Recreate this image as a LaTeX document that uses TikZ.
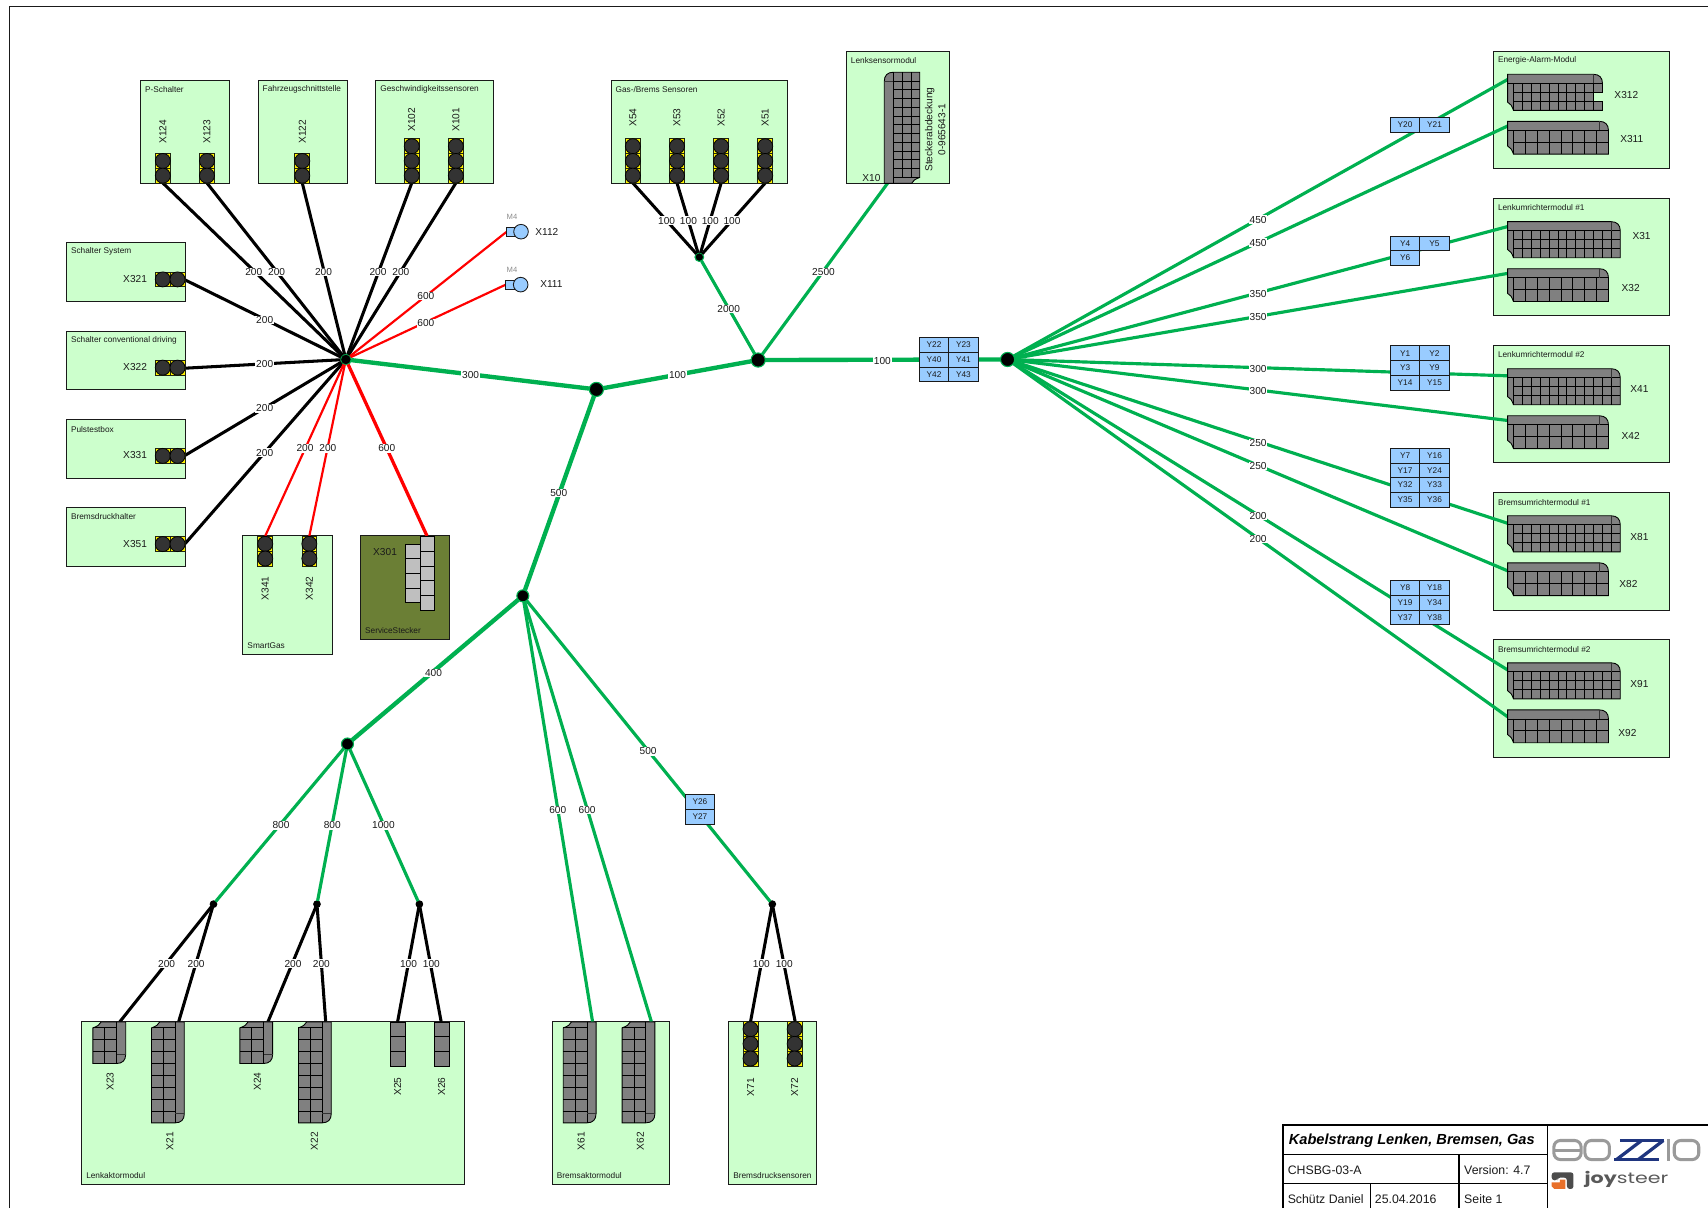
\documentclass[tikz,border=0pt]{standalone}
\usepackage{fontspec}
\usepackage{graphicx}
\setmainfont{Liberation Sans}
\newfontfamily\logofont{Poppins}
\definecolor{modgreen}{HTML}{CCFFCC}
\definecolor{olivebox}{HTML}{6B7F35}
\definecolor{wiregreen}{HTML}{00B050}
\definecolor{ybox}{HTML}{99CCFF}
\definecolor{blockgrey}{HTML}{808080}
\definecolor{inkdark}{HTML}{1A1A1A}
\definecolor{navylogo}{HTML}{1F357F}
\definecolor{greylogo}{HTML}{9A9A9A}
\definecolor{orangelogo}{HTML}{E8702A}
\tikzset{
  module/.style={draw=inkdark,line width=0.9pt,fill=modgreen,inner sep=0pt,outer sep=0pt,anchor=north west},
  modtitle/.style={anchor=west,inner sep=0pt,text=inkdark,font=\fontsize{7.6}{8.5}\selectfont},
  conlabel/.style={inner sep=0pt,text=inkdark,font=\fontsize{9.3}{11}\selectfont},
  lab/.style={fill=white,inner sep=0.7pt,text=inkdark,font=\fontsize{9.3}{10}\selectfont},
  ycellbox/.style={draw=inkdark,line width=0.8pt,fill=ybox,inner sep=0pt,outer sep=0pt,anchor=north west,minimum width=27pt,minimum height=13.5pt,text=inkdark,font=\fontsize{7.6}{8}\selectfont},
  junc/.style={circle,fill=black,draw=wiregreen,line width=1pt,inner sep=0pt,outer sep=0pt},
  blackw/.style={draw=black,line width=2.8pt},
  redw/.style={draw=red,line width=2pt},
  redthick/.style={draw=red,line width=3pt},
  greenw/.style={draw=wiregreen,line width=2.9pt},
  greenthick/.style={draw=wiregreen,line width=4pt},
  blk/.style={fill=blockgrey,draw=black,line width=0.8pt},
  blkline/.style={draw=black,line width=0.8pt},
  frameline/.style={draw=inkdark,line width=1pt},
  titleline/.style={draw=black,line width=1pt},
  titletext/.style={anchor=west,inner sep=0pt,text=inkdark,font=\fontsize{11.3}{13}\selectfont},
}
\newcount\lablcount
% module box with a title
\newcommand\modulebox[8][modgreen]{%
  \pgfmathsetmacro\mw{#5-#3}\pgfmathsetmacro\mh{#6-#4}%
  \node[module,fill=#1,minimum width=\mw pt,minimum height=\mh pt] (#2) at (#3,#4) {};
  \node[modtitle] (#2-title) at ({#3+4},{#8+0.5}) {#7};
}
% wire with a label
\newcommand\wire[6]{%
  \draw[#1] (#2) -- (#3);
  \global\advance\lablcount by 1
  \node[lab] (lab\the\lablcount) at (#5,{#6+0.7}) {#4};
}
% text label of a connector
\newcommand\conl[4]{\node[conlabel,rotate=#4] (l#3) at (#1,#2) {#3};}
\newcommand\conlv[3]{\conl{#1}{#2}{#3}{90}}
% one round cavity
\newcommand\pincell[2]{%
  \fill[yellow] ({#1-6.8},{#2-6.8}) rectangle ({#1+6.8},{#2+6.8});
  \draw[black!70!olivebox,line width=0.7pt] ({#1-6.8},{#2-6.8}) rectangle ({#1+6.8},{#2+6.8});
  \filldraw[fill=black!80,draw=black,line width=0.7pt] ({#1},{#2}) circle (6.9pt);
}
% vertical stack: x centre, top y, number
\newcommand\pinsv[3]{\foreach \pk in {1,...,#3}{\pincell{#1}{#2+6.75+(\pk-1)*13.5}}}
% horizontal stack: left x, y centre, number
\newcommand\pinsh[3]{\foreach \pk in {1,...,#3}{\pincell{#1+6.75+(\pk-1)*13.5}{#2}}}
% multi-way block: x,y,rotation,cols,rows,cell w,cell h
\newcommand\conblock[7]{%
  \begin{scope}[shift={(#1,#2)},rotate=#3]
    \pgfmathsetmacro\bW{5.4+#4*#6}\pgfmathsetmacro\bH{8.3+#5*#7}
    \filldraw[blk] (0,0) -- ({\bW-8.3},0) .. controls ({\bW-3},0) and (\bW,3) .. (\bW,8.3) -- (\bW,\bH) -- (5.4,\bH) .. controls (4,{\bH-4}) and (2.5,{\bH-6.5}) .. (0,{\bH-7.5}) -- cycle;
    \draw[blkline] (0,8.3) -- (\bW,8.3);
    \draw[black!80,line width=1.2pt] ({\bW-8.3},0) -- ({\bW-8.3},8.3);
    \foreach \ci in {1,...,#4}{\draw[blkline] ({5.4+(\ci-1)*#6},8.3) -- ({5.4+(\ci-1)*#6},\bH);}
    \ifnum#5>1 \foreach \cj in {2,...,#5}{\draw[blkline] (5.4,{8.3+(\cj-1)*#7}) -- (\bW,{8.3+(\cj-1)*#7});}\fi
  \end{scope}
}
% plain stack of rectangular cells: left x, top y, n, w, h, colour
\newcommand\cellstack[6]{\foreach \ck in {1,...,#3}{\filldraw[fill=#6,draw=black,line width=0.8pt] (#1,{#2+(\ck-1)*#5}) rectangle ({#1+#4},{#2+\ck*#5});}}
\newcommand\ycell[3]{\node[ycellbox] (#3) at (#1,#2) {#3};}
\begin{document}
\begin{tikzpicture}[x=1pt,y=-1pt]
\useasboundingbox (0,0) rectangle (1568,1109);
% page frame
\draw[frameline] (8.5,1109) -- (8.5,6) -- (1568,6);
% modules
\modulebox{mP}{129}{74}{211}{168}{P-Schalter}{81.5}
\modulebox{mF}{237}{74}{319}{168}{Fahrzeugschnittstelle}{81.5}
\modulebox{mG}{345}{74}{453}{168}{Geschwindigkeitssensoren}{81.5}
\modulebox{mS}{61}{223}{170}{277}{Schalter System}{230.5}
\modulebox{mC}{61}{304}{170}{358}{Schalter conventional driving}{312}
\modulebox{mT}{61}{385}{170}{439}{Pulstestbox}{393.5}
\modulebox{mB}{61}{466}{170}{520}{Bremsdruckhalter}{473.5}
\modulebox{mSG}{223}{492}{305}{601}{SmartGas}{592}
\modulebox[olivebox]{mSS}{331}{492}{413}{587}{ServiceStecker}{578}
\modulebox{mGB}{561}{74}{723}{168}{Gas-/Brems Sensoren}{81.5}
\modulebox{mLS}{777}{47}{872}{168}{Lenksensormodul}{55}
\modulebox{mE}{1371}{47}{1533}{155}{Energie-Alarm-Modul}{55}
\modulebox{mL1}{1371}{182}{1533}{290}{Lenkumrichtermodul \#1}{190}
\modulebox{mL2}{1371}{317}{1533}{425}{Lenkumrichtermodul \#2}{325}
\modulebox{mB1}{1371}{452}{1533}{560}{Bremsumrichtermodul \#1}{460.5}
\modulebox{mB2}{1371}{587}{1533}{695}{Bremsumrichtermodul \#2}{595.5}
\modulebox{mLA}{75}{938}{426}{1087}{Lenkaktormodul}{1079}
\modulebox{mBA}{507}{938}{615}{1087}{Bremsaktormodul}{1079}
\modulebox{mBD}{669}{938}{750}{1087}{Bremsdrucksensoren}{1079}
% junctions
\node[junc,minimum size=10pt] (J1) at (317.5,330) {};
\node[junc,minimum size=13pt] (J2) at (547.5,357.5) {};
\node[junc,minimum size=13pt] (J3) at (696,330.5) {};
\node[junc,minimum size=13pt] (J4) at (925,330) {};
\node[junc,minimum size=11pt] (J5) at (480,547) {};
\node[junc,minimum size=11pt] (J6) at (319,683) {};
\node[junc,minimum size=8pt] (Jg) at (642,236) {};
\node[junc,draw=black,minimum size=6pt] (Ja) at (196,830) {};
\node[junc,draw=black,minimum size=6pt] (Jb) at (291,830) {};
\node[junc,draw=black,minimum size=6pt] (Jc) at (385,830) {};
\node[junc,draw=black,minimum size=6pt] (Jd) at (709,830) {};
% wire ends
\coordinate (x124) at (149.5,168); \coordinate (x123) at (190,168);
\coordinate (x122) at (277.5,168); \coordinate (x102) at (378,168);
\coordinate (x101) at (418.5,168); \coordinate (x321) at (170,257);
\coordinate (x322) at (170,338); \coordinate (x331) at (170,418);
\coordinate (x351) at (170,499); \coordinate (x112) at (464.8,213);
\coordinate (x111) at (463.9,261.5); \coordinate (x341) at (243.5,492);
\coordinate (x342) at (284,492); \coordinate (x301) at (392,492);
\coordinate (x54) at (581,168); \coordinate (x53) at (621.5,168);
\coordinate (x52) at (662,168); \coordinate (x51) at (702.5,168);
\coordinate (x10) at (815,168); \coordinate (x61) at (544,938);
\coordinate (x62) at (598,938); \coordinate (x23) at (110,938);
\coordinate (x21) at (164,938); \coordinate (x24) at (246,938);
\coordinate (x22) at (299,938); \coordinate (x25) at (365,938);
\coordinate (x26) at (405,938); \coordinate (x71) at (689,938);
\coordinate (x72) at (730,938); \coordinate (x312) at (1384,73);
\coordinate (x311) at (1384,115.7); \coordinate (x31) at (1384,208);
\coordinate (x32) at (1384,251); \coordinate (x41) at (1384,345);
\coordinate (x42) at (1384,386); \coordinate (x81) at (1384,480.4);
\coordinate (x82) at (1384,524); \coordinate (x91) at (1384,615);
\coordinate (x92) at (1384,658);
% wires
\wire{blackw}{J1}{x124}{200}{233}{249}
\wire{blackw}{J1}{x123}{200}{254}{249}
\wire{blackw}{J1}{x122}{200}{297}{249}
\wire{blackw}{J1}{x102}{200}{347}{249}
\wire{blackw}{J1}{x101}{200}{368}{249}
\wire{blackw}{J1}{x321}{200}{243}{293}
\wire{blackw}{J1}{x322}{200}{243}{333.5}
\wire{blackw}{J1}{x331}{200}{243}{374}
\wire{blackw}{J1}{x351}{200}{243}{415}
\wire{redw}{J1}{x112}{600}{391}{271}
\wire{redw}{J1}{x111}{600}{391}{296}
\wire{redw}{J1}{x341}{200}{280}{411}
\wire{redw}{J1}{x342}{200}{301}{411}
\wire{redthick}{J1}{x301}{600}{355}{411}
\wire{greenthick}{J1}{J2}{300}{432}{344}
\wire{greenthick}{J2}{J3}{100}{622}{344}
\wire{greenthick}{J3}{J4}{100}{810}{331}
\wire{greenthick}{J2}{J5}{500}{513}{452}
\wire{greenw}{J3}{Jg}{2000}{669}{283}
\wire{greenw}{J3}{x10}{2500}{756}{249}
\wire{blackw}{Jg}{x54}{100}{612}{202}
\wire{blackw}{Jg}{x53}{100}{632}{202}
\wire{blackw}{Jg}{x52}{100}{652}{202}
\wire{blackw}{Jg}{x51}{100}{672}{202}
\wire{greenthick}{J5}{J6}{400}{398}{617}
\wire{greenw}{J5}{x61}{600}{512}{743}
\wire{greenw}{J5}{x62}{600}{539}{743}
\wire{greenw}{J5}{Jd}{500}{595}{689}
\wire{greenw}{J6}{Ja}{800}{258}{757}
\wire{greenw}{J6}{Jb}{800}{305}{757}
\wire{greenw}{J6}{Jc}{1000}{352}{757}
\wire{blackw}{Ja}{x23}{200}{153}{884}
\wire{blackw}{Ja}{x21}{200}{180}{884}
\wire{blackw}{Jb}{x24}{200}{269}{884}
\wire{blackw}{Jb}{x22}{200}{295}{884}
\wire{blackw}{Jc}{x25}{100}{375}{884}
\wire{blackw}{Jc}{x26}{100}{396}{884}
\wire{blackw}{Jd}{x71}{100}{699}{884}
\wire{blackw}{Jd}{x72}{100}{720}{884}
\wire{greenw}{J4}{x312}{450}{1155}{201}
\wire{greenw}{J4}{x311}{450}{1155}{222}
\wire{greenw}{J4}{x31}{350}{1155}{269}
\wire{greenw}{J4}{x32}{350}{1155}{290}
\wire{greenw}{J4}{x41}{300}{1155}{338}
\wire{greenw}{J4}{x42}{300}{1155}{358}
\wire{greenw}{J4}{x81}{250}{1155}{406}
\wire{greenw}{J4}{x82}{250}{1155}{427}
\wire{greenw}{J4}{x91}{200}{1155}{473}
\wire{greenw}{J4}{x92}{200}{1155}{494}
% round pin connectors
\pinsv{149.5}{141}{2}\conlv{149.5}{121}{X124}
\pinsv{190}{141}{2}\conlv{190}{121}{X123}
\pinsv{277.5}{141}{2}\conlv{277.5}{121}{X122}
\pinsv{378}{127.5}{3}\conlv{378}{110}{X102}
\pinsv{418.5}{127.5}{3}\conlv{418.5}{110}{X101}
\pinsh{142.7}{256.5}{2}\conl{124}{256}{X321}{0}
\pinsh{142.7}{337.5}{2}\conl{124}{337}{X322}{0}
\pinsh{142.7}{418.5}{2}\conl{124}{418}{X331}{0}
\pinsh{142.7}{499.5}{2}\conl{124}{499}{X351}{0}
\pinsv{243.5}{492.5}{2}\conlv{243.5}{540}{X341}
\pinsv{284}{492.5}{2}\conlv{284}{540}{X342}
\pinsv{581}{127.5}{3}\conlv{581}{108}{X54}
\pinsv{621.5}{127.5}{3}\conlv{621.5}{108}{X53}
\pinsv{662}{127.5}{3}\conlv{662}{108}{X52}
\pinsv{702.5}{127.5}{3}\conlv{702.5}{108}{X51}
\pinsv{689}{938}{3}\conlv{689}{998}{X71}
\pinsv{729.5}{938}{3}\conlv{729.5}{998}{X72}
% service plug
\cellstack{371.8}{499.4}{4}{13.8}{13.5}{black!25}
\cellstack{385.6}{492.7}{5}{12.9}{13.5}{black!25}
\conl{353.5}{506.4}{X301}{0}
% M4 ring terminals
\node[text=black!45,inner sep=0pt,font=\fontsize{7}{8}\selectfont] (m4a) at (470,199) {M4};
\node[text=black!45,inner sep=0pt,font=\fontsize{7}{8}\selectfont] (m4b) at (470,248) {M4};
\filldraw[fill=ybox,draw=inkdark,line width=0.8pt] (464.8,208.7) rectangle (472.8,216.7);
\filldraw[fill=ybox,draw=inkdark,line width=0.8pt] (478.3,212.7) circle (6.7pt);
\filldraw[fill=ybox,draw=inkdark,line width=0.8pt] (463.9,257.4) rectangle (471.9,265.3);
\filldraw[fill=ybox,draw=inkdark,line width=0.8pt] (478,261.3) circle (6.7pt);
\conl{502}{212.5}{X112}{0}
\conl{506.2}{261}{X111}{0}
% multi-way blocks, right column
\conblock{1384}{68.2}{0}{10}{3}{8.17}{8.26}
\fill[modgreen] (1463.2,85.2) rectangle (1472.5,92.8);
\draw[blkline] (1471.2,84.8) -- (1462.8,84.8) -- (1462.8,93.1) -- (1471.2,93.1);
\conblock{1384}{111.4}{0}{8}{2}{10.9}{10.9}
\conblock{1384}{203.5}{0}{12}{3}{8.17}{8.26}
\conblock{1384}{246.7}{0}{8}{2}{10.9}{10.9}
\conblock{1384}{338.5}{0}{12}{3}{8.17}{8.26}
\conblock{1384}{381.7}{0}{8}{2}{10.9}{10.9}
\conblock{1384}{473.5}{0}{12}{3}{8.17}{8.26}
\conblock{1384}{516.7}{0}{8}{2}{10.9}{10.9}
\conblock{1384}{608.5}{0}{12}{3}{8.17}{8.26}
\conblock{1384}{651.7}{0}{8}{2}{10.9}{10.9}
\conl{1493}{87}{X312}{0}\conl{1498}{128}{X311}{0}
\conl{1507}{217}{X31}{0}\conl{1497}{264}{X32}{0}
\conl{1505}{357}{X41}{0}\conl{1497}{400}{X42}{0}
\conl{1505}{493}{X81}{0}\conl{1495}{536}{X82}{0}
\conl{1505}{628}{X91}{0}\conl{1494}{673}{X92}{0}
% steering sensor block
\conblock{811.8}{168.3}{90}{12}{3}{8.05}{8.1}
\conl{800}{163}{X10}{0}
\node[conlabel,rotate=90,align=center] (cover) at (858.5,119) {Steckerabdeckung\\[1pt]0-965643-1};
% bottom blocks
\conblock{115.4}{938.2}{-90}{3}{2}{10.9}{10.9}
\conblock{169.2}{938.2}{-90}{8}{2}{10.9}{10.9}
\conblock{250.3}{938.2}{-90}{3}{2}{10.9}{10.9}
\conblock{304.1}{938.2}{-90}{8}{2}{10.9}{10.9}
\conblock{547.2}{938.2}{-90}{8}{2}{10.9}{10.9}
\conblock{601.2}{938.2}{-90}{8}{2}{10.9}{10.9}
\cellstack{358.3}{938.2}{3}{13.7}{13.6}{blockgrey}
\cellstack{398.7}{938.2}{3}{13.7}{13.6}{blockgrey}
\conlv{101}{993}{X23}\conlv{156}{1047.5}{X21}
\conlv{236.2}{993}{X24}\conlv{288.6}{1047.5}{X22}
\conlv{365}{997.5}{X25}\conlv{405.4}{997.5}{X26}
\conlv{533.5}{1047.5}{X61}\conlv{588}{1047.5}{X62}
% splice blocks
\ycell{1276.4}{107.7}{Y20}\ycell{1303.4}{107.7}{Y21}
\ycell{1276.4}{216.7}{Y4}\ycell{1303.4}{216.7}{Y5}\ycell{1276.4}{230.2}{Y6}
\ycell{1276.4}{317.5}{Y1}\ycell{1303.4}{317.5}{Y2}
\ycell{1276.4}{331}{Y3}\ycell{1303.4}{331}{Y9}
\ycell{1276.4}{344.5}{Y14}\ycell{1303.4}{344.5}{Y15}
\ycell{1276.4}{411.6}{Y7}\ycell{1303.4}{411.6}{Y16}
\ycell{1276.4}{425.1}{Y17}\ycell{1303.4}{425.1}{Y24}
\ycell{1276.4}{438.6}{Y32}\ycell{1303.4}{438.6}{Y33}
\ycell{1276.4}{452.1}{Y35}\ycell{1303.4}{452.1}{Y36}
\ycell{1276.4}{533.1}{Y8}\ycell{1303.4}{533.1}{Y18}
\ycell{1276.4}{546.6}{Y19}\ycell{1303.4}{546.6}{Y34}
\ycell{1276.4}{560.1}{Y37}\ycell{1303.4}{560.1}{Y38}
\ycell{844}{310}{Y22}\ycell{871}{310}{Y23}
\ycell{844}{323.5}{Y40}\ycell{871}{323.5}{Y41}
\ycell{844}{337}{Y42}\ycell{871}{337}{Y43}
\ycell{629}{729.5}{Y26}\ycell{629}{743}{Y27}
% title block
\draw[titleline] (1177.8,1109) -- (1177.8,1032.8) -- (1568,1032.8);
\draw[titleline] (1420.8,1032.8) -- (1420.8,1109);
\draw[titleline] (1177.8,1060) -- (1420.8,1060);
\draw[titleline] (1177.8,1086.7) -- (1420.8,1086.7);
\draw[titleline] (1339.4,1060) -- (1339.4,1109);
\draw[titleline] (1258.3,1086.7) -- (1258.3,1109);
\node[titletext,text=black,font=\fontsize{13.4}{15}\selectfont\bfseries\itshape] (ttl) at (1183,1047.2) {Kabelstrang Lenken, Bremsen, Gas};
\node[titletext] (tdoc) at (1182,1074) {CHSBG-03-A};
\node[titletext] (tver) at (1344,1074) {Version: 4.7};
\node[titletext] (taut) at (1182,1100.5) {Schütz Daniel};
\node[titletext] (tdat) at (1262,1100.5) {25.04.2016};
\node[titletext] (tpag) at (1344,1100.5) {Seite 1};
% logo
\begin{scope}[line width=2.8pt]
  \draw[greylogo,rounded corners=6pt] (1426.5,1047) rectangle (1451.5,1064.5);
  \draw[greylogo] (1426.5,1055.8) -- (1451.5,1055.8);
  \draw[greylogo,rounded corners=6pt] (1455,1047) rectangle (1477.5,1064.5);
  \draw[navylogo,line width=3pt] (1487,1047) -- (1528,1047);
  \draw[navylogo,line width=3pt] (1482,1064.5) -- (1523,1064.5);
  \draw[navylogo,line width=3pt] (1507,1047) -- (1484,1064.5);
  \draw[navylogo,line width=3pt] (1527,1047) -- (1504,1064.5);
  \draw[greylogo] (1531.5,1046) -- (1531.5,1065.5);
  \draw[greylogo,rounded corners=6pt] (1537,1047) rectangle (1559.5,1064.5);
\end{scope}
\fill[black!70,rounded corners=2.5pt] (1424.5,1083.5) -- (1424.5,1076.2) -- (1444.5,1076.2) -- (1444.5,1091.5) -- (1438.5,1091.5) -- (1438.5,1081) -- (1430,1081) -- (1430,1083.5) -- cycle;
\fill[orangelogo] (1424.5,1085.5) -- (1432,1085.5) -- (1432,1083) -- (1437,1083) -- (1437,1091.5) -- (1427,1091.5) -- (1424.5,1089) -- cycle;
\node[anchor=west,inner sep=0pt,text=black!65,font=\logofont\fontsize{14}{16}\selectfont] (logo2) at (1454.5,1083) {\scalebox{1.35}[1]{\textbf{joy}steer}};
\end{tikzpicture}
\end{document}
